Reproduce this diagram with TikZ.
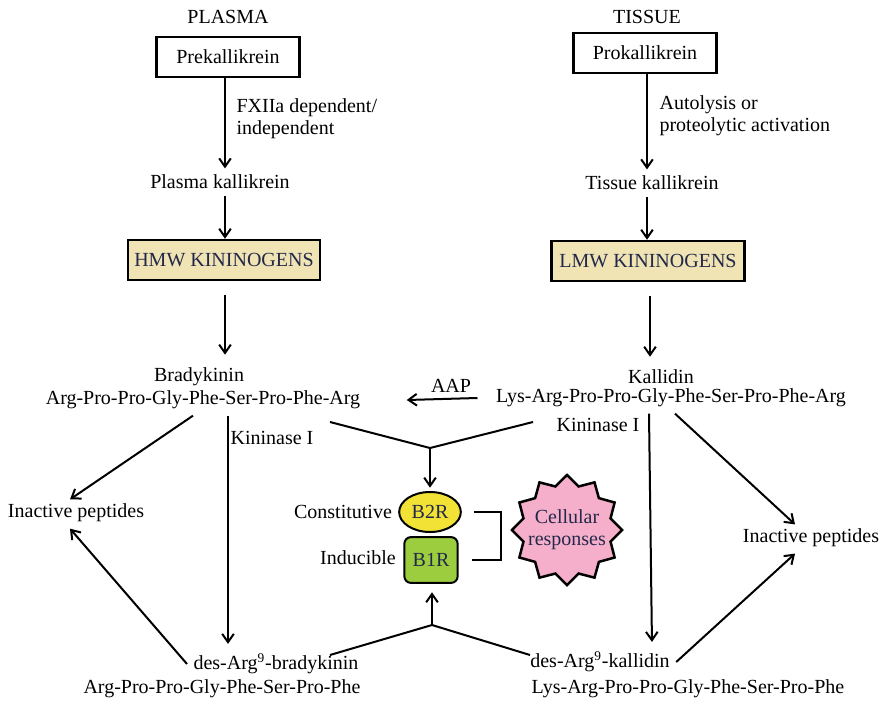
\documentclass[tikz,border=0pt]{standalone}
\usepackage{fontspec}
\setmainfont{Liberation Serif}
\usetikzlibrary{arrows.meta,shapes.geometric,calc}

\definecolor{kinfill}{HTML}{F0E3B4}
\definecolor{kintext}{HTML}{22284A}
\definecolor{btwo}{HTML}{F2E236}
\definecolor{bone}{HTML}{9CCD3E}
\definecolor{cellpink}{HTML}{F6AFCB}

\begin{document}
\begin{tikzpicture}[x=0.6pt,y=-0.6pt,font=\fontsize{12}{13.4}\selectfont,>={Straight Barb[length=5pt,width=7pt]},
  line width=1.2pt,
  plainbox/.style={draw,line width=1.5pt,minimum height=24pt},
  kinbox/.style={draw,line width=1.5pt,fill=kinfill,text=kintext,minimum height=24pt},
  recep/.style={draw,line width=1.2pt,text=kintext}]
\useasboundingbox (0,0) rectangle (886,703);

% plasma side
\node (plasma) at (228,17) {PLASMA};
\node[plainbox,minimum width=86pt] (prek) at (228,57) {Prekallikrein};
\node (pk) at (220,182) {Plasma kallikrein};
\node[kinbox,minimum width=115pt] (hmw) at (224,260) {HMW KININOGENS};
\node[anchor=west,align=left] (fxii) at (230,119) {FXIIa dependent/\\independent};
\draw[->] (prek.south -| 225,0) -- (pk.north -| 225,0);
\draw[->] (pk.south -| 225,0) -- (hmw.north -| 225,0);

% tissue side
\node (tissue) at (647,17) {TISSUE};
\node[plainbox,minimum width=86pt] (prok) at (645,53) {Prokallikrein};
\node (tk) at (652,183) {Tissue kallikrein};
\node[kinbox,minimum width=116pt] (lmw) at (648,261) {LMW KININOGENS};
\node[anchor=west,align=left] (autol) at (653,116) {Autolysis or\\proteolytic activation};
\draw[->] (prok.south -| 647,0) -- (tk.north -| 647,0);
\draw[->] (tk.south -| 647,0) -- (lmw.north -| 647,0);

% kinins
\node (bkname) at (199,377) {Bradykinin};
\node (bkseq) at (203,400) {Arg-Pro-Pro-Gly-Phe-Ser-Pro-Phe-Arg};
\node (kdname) at (661,377) {Kallidin};
\node (kdseq) at (671,398) {Lys-Arg-Pro-Pro-Gly-Phe-Ser-Pro-Phe-Arg};
\draw[->,shorten <=8pt,shorten >=4pt] (hmw.south -| 225,0) -- (bkname.north -| 225,0);
\draw[->,shorten <=8pt,shorten >=4pt] (lmw.south -| 650,0) -- (kdname.north -| 650,0);
\node (aap) at (451,386) {AAP};
\draw[->] ($(kdseq.west)+(-12,0)$) -- ($(bkseq.east)+(40,0)$);

% receptors
\node[recep,ellipse,fill=btwo,minimum width=37pt,minimum height=24pt,inner sep=1pt] (b2r) at (430,512) {B2R};
\node[recep,rounded corners=4pt,fill=bone,minimum width=32pt,minimum height=27.5pt] (b1r) at (431,560) {B1R};
\node (const) at (343,512) {Constitutive};
\node (induc) at (358,558) {Inducible};
\node[star,star points=12,star point ratio=1.22,minimum size=66pt,draw,line width=1.5pt,fill=cellpink] (cell) at (567,530) {};
\node[text=kintext,align=center] (celltxt) at (cell.center) {Cellular\\responses};
\draw ([xshift=7pt]b2r.east) -- ++(27,0) |- ([xshift=8pt]b1r.east);

\coordinate (jl) at (330,422);
\coordinate (jr) at (533,422);
\coordinate (jt) at (430,448);
\draw (jl) -- (jt) -- (jr);
\draw[->,shorten >=2pt] (jt) -- (b2r.north);

% des-Arg9 kinins
\node (dbkname) at (276,664) {des-Arg\textsuperscript{9}-bradykinin};
\node (dbkseq) at (222,689) {Arg-Pro-Pro-Gly-Phe-Ser-Pro-Phe};
\node (dkdname) at (600,662) {des-Arg\textsuperscript{9}-kallidin};
\node (dkdseq) at (688,689) {Lys-Arg-Pro-Pro-Gly-Phe-Ser-Pro-Phe};
\node (kinl) at (272,438) {Kininase I};
\node (kinr) at (598,425) {Kininase I};
\coordinate (kdtop) at ($(kdseq.south -| prok)+(4,0)$);
\draw[->,shorten >=2pt] (bkseq.south -| prek) -- (dbkname.north -| prek);
\draw[->,shorten >=2pt] (kdtop) -- (dkdname.north -| tk);

\coordinate (bl) at (330,655);
\coordinate (br) at (530,655);
\coordinate (bt) at (432,625);
\draw (bl) -- (bt) -- (br);
\draw[->,shorten >=5pt] (bt) -- (b1r.south -| bt);

% inactive peptides
\node (ipl) at (76,513) {Inactive peptides};
\node (ipr) at (811,538) {Inactive peptides};
\draw[->] ($(bkseq.south)+(-10,0)$) -- ($(ipl.north)+(-6,2)$);
\draw[->] (dbkname.west) -- ($(ipl.south)+(-6,0)$);
\draw[->] ($(kdseq.south)+(4,0)$) -- ($(ipr.north)+(-16,2)$);
\draw[->] (dkdname.east) -- ($(ipr.south)+(-16,0)$);
\end{tikzpicture}
\end{document}
